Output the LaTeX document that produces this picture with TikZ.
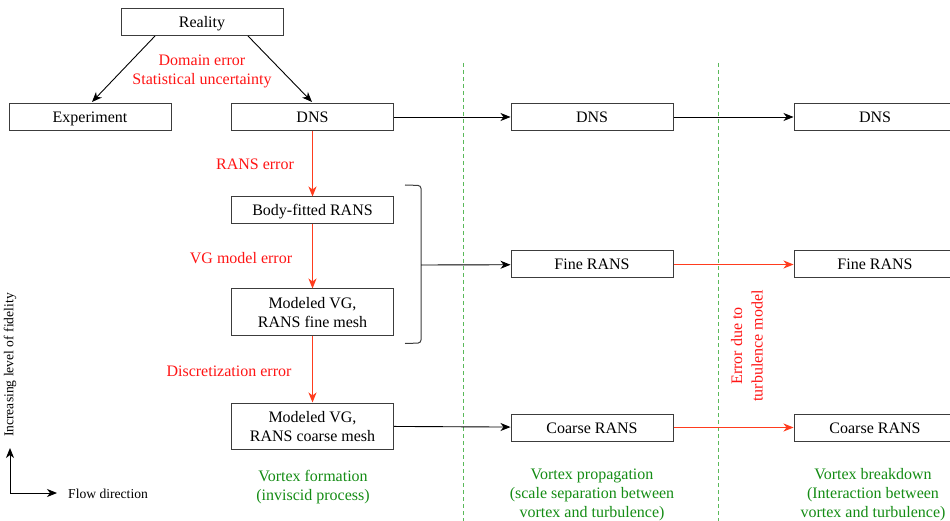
\documentclass[tikz,border=0pt]{standalone}
\usepackage{fontspec}
\setmainfont{Liberation Serif}
\usetikzlibrary{arrows.meta}
\definecolor{errred}{RGB}{255,20,20}
\definecolor{arrred}{RGB}{255,60,30}
\definecolor{txtgreen}{RGB}{20,140,20}
\definecolor{lngreen}{RGB}{90,185,90}
\definecolor{boxgray}{RGB}{60,60,60}
\begin{document}
\begin{tikzpicture}[x=1pt,y=-1pt,
  every node/.style={font=\fontsize{16}{19}\selectfont},
  box/.style={draw=boxgray, line width=1pt, minimum width=162pt, minimum height=27pt, inner sep=0pt, align=center, text height=11pt, text depth=0pt},
  tallbox/.style={draw=boxgray, line width=1pt, minimum width=162pt, minimum height=46pt, inner sep=0pt, align=center, text depth=0pt},
  blk/.style={draw=black, line width=0.9pt, -{Stealth[length=10pt,width=8pt,inset=3pt]}},
  redarr/.style={draw=arrred, line width=0.9pt, -{Stealth[length=10pt,width=8pt,inset=3pt]}},
  errlbl/.style={text=errred},
  grnlbl/.style={text=txtgreen, align=center, font=\fontsize{16}{19}\selectfont},
  axlbl/.style={font=\fontsize{13.6}{16}\selectfont},
  sep/.style={draw=lngreen, line width=1pt, dash pattern=on 4pt off 3pt}
]
\useasboundingbox (0,0) rectangle (950,521);
% separators
\coordinate (s1t) at (463,63); \coordinate (s1b) at (463,521);
\coordinate (s2t) at (718,63); \coordinate (s2b) at (718,521);
\draw[sep] (s1t) -- (s1b);
\draw[sep] (s2t) -- (s2b);
% nodes
\node[box] (reality) at (202,22) {Reality};
\node[box] (exp) at (90,117) {Experiment};
\node[box] (dns1) at (312.5,117) {DNS};
\node[box] (dns2) at (592,117) {DNS};
\node[box] (dns3) at (875,117) {DNS};
\node[box] (bf) at (312.5,210.5) {Body-fitted RANS};
\node[tallbox] (vgf) at (312.5,312) {Modeled VG,\\RANS fine mesh};
\node[tallbox] (vgc) at (312.5,426) {Modeled VG,\\RANS coarse mesh};
\node[box] (fr2) at (592,264.5) {Fine RANS};
\node[box] (fr3) at (875,264.5) {Fine RANS};
\node[box] (cr2) at (592,427.5) {Coarse RANS};
\node[box] (cr3) at (875,427.5) {Coarse RANS};
% top arrows
\draw[blk] (155,36) -- (92,102);
\draw[blk] (248,36) -- (312,102);
\node[errlbl, align=center] (dom) at (202,71) {Domain error\\Statistical uncertainty};
% red vertical
\draw[redarr] (dns1) -- (bf);
\draw[redarr] (bf) -- (vgf);
\draw[redarr] (vgf) -- (vgc);
\node[errlbl] (rerr) at (255,164) {RANS error};
\node[errlbl] (vgerr) at (241,258) {VG model error};
\node[errlbl] (derr) at (229,371) {Discretization error};
% horizontal arrows
\draw[blk] (dns1) -- (dns2);
\draw[blk] (dns2) -- (dns3);
\draw[blk] (vgc) -- (cr2);
\draw[redarr] (fr2) -- (fr3);
\draw[redarr] (cr2) -- (cr3);
% bracket
\draw[boxgray, line width=1pt, rounded corners=3pt] (405,185) -- (421,185.5) -- (421,343) -- (405,343.5);
\coordinate (br) at (421,265);
\draw[blk] (br) -- (fr2);
% rotated error label
\node[errlbl, rotate=90, align=center, font=\fontsize{16}{20.5}\selectfont] (turb) at (747,346) {Error due to\\turbulence model};
% axes
\coordinate (org) at (10,493);
\coordinate (up) at (10,448);
\coordinate (rt) at (57,493);
\draw[blk] (org) -- (up);
\draw[blk] (org) -- (rt);
\node[axlbl, rotate=90] (fid) at (10,365) {Increasing level of fidelity};
\node[axlbl, anchor=west, inner sep=0pt] (flow) at (68,494) {Flow direction};
% bottom labels
\node[grnlbl] (vf) at (313,487) {Vortex formation\\(inviscid process)};
\node[grnlbl] (vp) at (592,495) {Vortex propagation\\(scale separation between\\vortex and turbulence)};
\node[grnlbl] (vb) at (873,495) {Vortex breakdown\\(Interaction between\\vortex and turbulence)};
\end{tikzpicture}
\end{document}
